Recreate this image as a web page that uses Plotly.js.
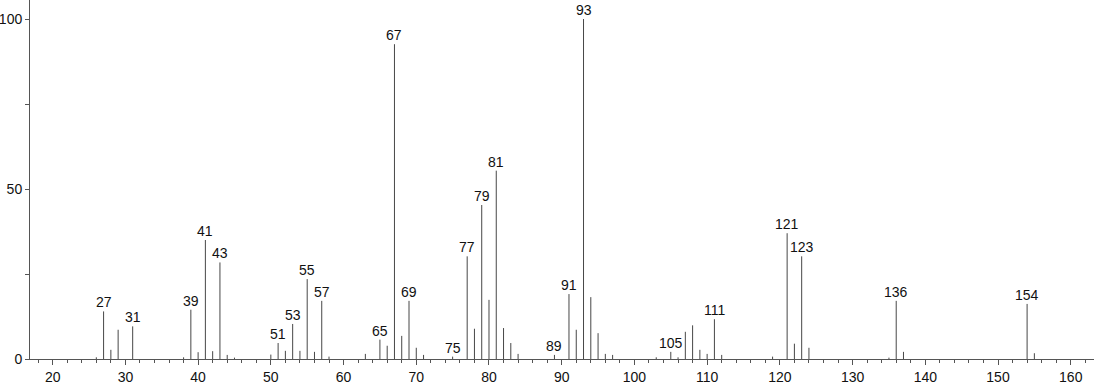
<!DOCTYPE html>
<html>
<head>
<meta charset="utf-8">
<script src="https://cdn.plot.ly/plotly-3.0.1.min.js"></script>
<style>html,body{margin:0;padding:0;background:#fff;}#chart{width:1094px;height:384px;}</style>
</head>
<body>
<div id="chart"></div>
<script>
// m/z values and relative intensities
const mz = [26,27,28,29,31,38,39,40,41,42,43,44,45,50,51,52,53,54,55,56,57,58,63,65,66,67,68,69,70,71,75,77,78,79,80,81,82,83,84,89,91,92,93,94,95,96,97,103,105,106,107,108,109,110,111,112,119,121,122,123,124,135,136,137,154,155];
const intensity = [0.5,14.0,2.7,8.6,9.6,0.5,14.5,2.0,35.0,2.3,28.4,1.2,0.4,1.3,4.7,2.4,10.3,2.4,23.5,2.1,17.1,0.7,1.5,5.7,3.9,92.6,6.8,17.1,3.3,1.2,0.7,30.2,8.9,45.3,17.4,55.4,9.1,4.7,1.5,1.2,19.1,8.6,100,18.2,7.6,1.5,1.2,0.5,2.1,0.5,8.0,9.9,2.7,1.5,11.7,1.2,0.7,37.0,4.5,30.2,3.3,0.4,17.1,2.1,16.2,1.7];
const labeledPeaks = [27,31,39,41,43,51,53,55,57,65,67,69,75,77,79,81,89,91,93,105,111,121,123,136,154];
const xTickVals = [20,30,40,50,60,70,80,90,100,110,120,130,140,150,160];
const yTickVals = [0,50,100];

const xs = [], ys = [];
mz.forEach((m, i) => { xs.push(m, m, null); ys.push(0, intensity[i], null); });

const annotations = labeledPeaks.map(m => ({
  x: m, y: intensity[mz.indexOf(m)], xref: 'x', yref: 'y',
  text: String(m), showarrow: false, xanchor: 'center', yanchor: 'bottom',
  yshift: -1, font: {family: 'Liberation Sans, Arial, sans-serif', size: 14, color: '#111'}
}));

const trace = {x: xs, y: ys, type: 'scatter', mode: 'lines',
  line: {color: '#474747', width: 1}, hoverinfo: 'skip', connectgaps: false};

const layout = {
  width: 1094, height: 384,
  margin: {l: 30, r: 0, t: 0, b: 25},
  paper_bgcolor: '#fff', plot_bgcolor: '#fff',
  showlegend: false,
  font: {family: 'Liberation Sans, Arial, sans-serif', size: 14, color: '#111'},
  xaxis: {range: [16.88, 163.2], tickvals: xTickVals, ticks: 'outside', ticklen: 5, tickwidth: 1,
    tickcolor: '#555', showline: true, linecolor: '#555', linewidth: 1, showgrid: false, zeroline: false,
    minor: {dtick: 2, tick0: 0, ticks: 'outside', ticklen: 3, tickcolor: '#555', showgrid: false},
    tickfont: {size: 14, color: '#111'}, ticklabelstandoff: 0},
  yaxis: {range: [0, 105.6], tickvals: yTickVals, ticks: 'outside', ticklen: 4, tickwidth: 1,
    tickcolor: '#555', showline: true, linecolor: '#555', linewidth: 1, showgrid: false, zeroline: false,
    minor: {dtick: 25, tick0: 0, ticks: 'outside', ticklen: 4, tickcolor: '#555', showgrid: false},
    tickfont: {size: 14, color: '#111'}, ticklabelstandoff: 0},
  annotations: annotations
};

Plotly.newPlot('chart', [trace], layout, {displayModeBar: false, staticPlot: true});
</script>
</body>
</html>
